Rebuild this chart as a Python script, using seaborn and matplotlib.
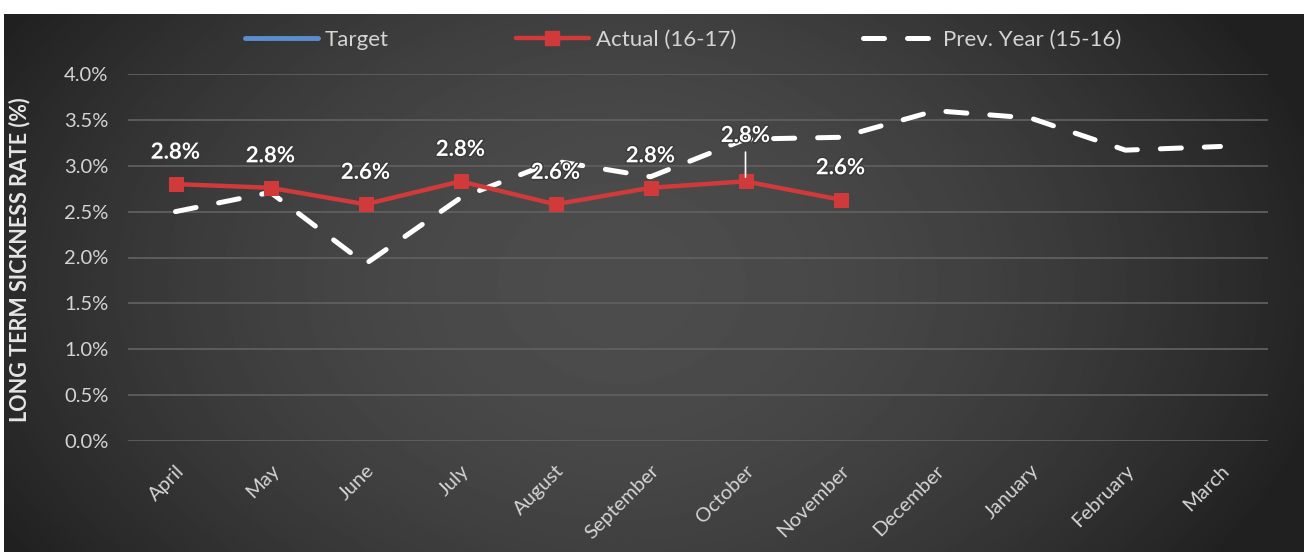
import numpy as np
import pandas as pd
import matplotlib
matplotlib.use("Agg")
import matplotlib.pyplot as plt
from matplotlib.lines import Line2D
from matplotlib.ticker import FuncFormatter
import matplotlib.patheffects as pe
import seaborn as sns

# ---- data -------------------------------------------------------------
months = ["April", "May", "June", "July", "August", "September",
          "October", "November", "December", "January", "February", "March"]
actual_16_17 = [2.80, 2.76, 2.58, 2.83, 2.58, 2.76, 2.83, 2.63]
prev_15_16 = [2.50, 2.71, 1.93, 2.65, 3.05, 2.88, 3.29, 3.31, 3.60, 3.52, 3.17, 3.21]
y_ticks = [0.0, 0.5, 1.0, 1.5, 2.0, 2.5, 3.0, 3.5, 4.0]

# ---- style ------------------------------------------------------------
sns.set_theme(style="white")
plt.rcParams["font.family"] = ["Lato", "DejaVu Sans"]

W, H, DPI = 1304, 552, 100
fig = plt.figure(figsize=(W / DPI, H / DPI), dpi=DPI, facecolor="white")

# dark gradient panel behind the chart
bg = fig.add_axes([4 / W, 0, (W - 4) / W, (H - 14) / H], zorder=-10)
gx = np.linspace(-1, 1, 600)
gy = np.linspace(-1, 1, 250)
XX, YY = np.meshgrid(gx, gy)
shade = 0.30 - 0.14 * np.clip(np.abs(XX + 0.05) ** 1.8 + 0.35 * YY ** 2, 0, 1.2)
bg.imshow(shade, cmap="gray", vmin=0, vmax=1, aspect="auto",
          extent=[0, 1, 0, 1], interpolation="bilinear")
bg.set_axis_off()

ax = fig.add_axes([128 / W, 1 - 441 / H, 1140 / W, (441 - 74) / H])
ax.set_facecolor("none")

prev_df = pd.DataFrame({"Month": months, "Rate": prev_15_16})
act_df = pd.DataFrame({"Month": months[:len(actual_16_17)], "Rate": actual_16_17})

red = "#d03a3a"
white = "#ffffff"
dash_pat = (4.2, 4.6)

sns.lineplot(data=prev_df, x="Month", y="Rate", sort=False, estimator=None,
             color=white, lw=3.6, ax=ax, zorder=3,
             dashes=False, legend=False)
prev_line = ax.lines[-1]
prev_line.set_dashes(dash_pat)
prev_line.set_dash_capstyle("round")

sns.lineplot(data=act_df, x="Month", y="Rate", sort=False, estimator=None,
             color=red, lw=3.2, marker="s", markersize=10,
             markeredgecolor=red, ax=ax, zorder=4, legend=False)

# value labels for the current year
for i, v in enumerate(actual_16_17):
    lift = 33 if months[i] == "October" else 23
    kw = {}
    if months[i] == "October":
        kw["arrowprops"] = dict(arrowstyle="-", color="white", lw=1.2,
                                shrinkA=2, shrinkB=3)
    ax.annotate(f"{v:.1f}%", xy=(i, v), xytext=(0, lift),
                textcoords="offset points", ha="center", va="center",
                fontsize=16, fontweight="bold", color="white", zorder=6,
                path_effects=[pe.withStroke(linewidth=2, foreground="#3a3a3a")],
                **kw)

ax.set_xlim(-0.5, len(months) - 0.5)
ax.set_ylim(0, 4.0)
ax.set_yticks(y_ticks)
ax.yaxis.set_major_formatter(FuncFormatter(lambda v, p: f"{v:.1f}%"))
ax.grid(axis="y", color="#5f5f5f", lw=1.3)
ax.grid(axis="x", visible=False)
for s in ax.spines.values():
    s.set_visible(False)
ax.set_xlabel("")
ax.set_ylabel("")

tick_col = "#d4d4d4"
ax.tick_params(axis="y", length=0, pad=14, labelsize=14.5, labelcolor=tick_col)
ax.tick_params(axis="x", length=0, pad=15, labelsize=14.5, labelcolor=tick_col)
ax.set_xticks(range(len(months)))
ax.set_xticklabels(months, rotation=45, ha="right", rotation_mode="anchor")

fig.text(20 / W, 1 - 260 / H, "LONG TERM SICKNESS RATE (%)", rotation=90,
         ha="center", va="center", fontsize=15.5, fontweight="bold",
         color="#e6e6e6")

# legend
handles = [
    Line2D([], [], color="#5b8ed0", lw=3.5),
    Line2D([], [], color=red, lw=3.2, marker="s", markersize=10),
    Line2D([], [], color=white, lw=3.6, dashes=dash_pat,
           dash_capstyle="round"),
]
labels = ["Target", "Actual (16-17)", "Prev. Year (15-16)"]
fig.legend(handles, labels, loc="center", bbox_to_anchor=(683 / W, 1 - 40 / H),
           ncol=3, frameon=False, fontsize=16, labelcolor="#d4d4d4",
           handlelength=3.3, handletextpad=0.3, columnspacing=5.7)

fig.savefig("out.png", dpi=DPI, facecolor="white")
